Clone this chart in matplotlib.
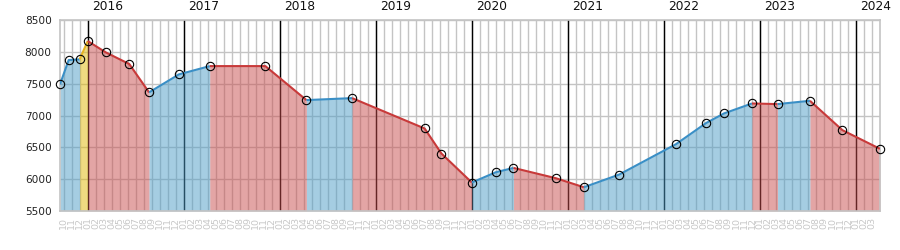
import matplotlib
matplotlib.use("Agg")
import matplotlib.pyplot as plt
import numpy as np

# month index: 0 = Oct 2015
x_pos = [-0.46, 0.625, 2.0, 3.0, 5.25, 8.2, 10.67, 14.4, 18.25, 25.2, 30.33, 36.04,
         45.1, 47.2, 51.0, 54.0, 56.2, 61.5, 65.0, 69.4, 76.5, 80.25, 82.5, 86.0,
         89.2, 93.25, 97.3, 102.0]
values = [7489, 7871, 7882, 8170, 7992, 7808, 7363, 7646, 7776, 7776, 7242, 7273,
          6796, 6403, 5947, 6109, 6177, 6015, 5873, 6072, 6549, 6880, 7032, 7189,
          7179, 7231, 6770, 6476]
# segment category between consecutive points: u = up (blue), d = down (red), y = yellow
segments = ["u", "u", "y", "d", "d", "d", "u", "u", "d", "d", "u", "d", "d", "d",
            "u", "u", "d", "d", "u", "u", "u", "u", "u", "d", "u", "d", "d"]
years = [2016, 2017, 2018, 2019, 2020, 2021, 2022, 2023, 2024]
start_year, start_month = 2015, 10
n_months = 102
month_labels = [f"{(start_month - 1 + i) % 12 + 1:02d}" for i in range(n_months)]
y_ticks = [5500, 6000, 6500, 7000, 7500, 8000, 8500]

fill_col = {"u": (0.302, 0.616, 0.780, 0.5), "d": (0.788, 0.302, 0.302, 0.5),
            "y": (0.882, 0.725, 0.02, 0.5)}
line_col = {"u": "#3a8fc6", "d": "#c83a3a", "y": "#e6b422"}

fig = plt.figure(figsize=(9, 2.5), dpi=100)
ax = fig.add_axes([60 / 900, 1 - 211 / 250, 820 / 900, 191 / 250])

ax.set_xlim(-0.46, 102.0)
ax.set_ylim(5500, 8500)

# grid
for m in range(n_months):
    ax.axvline(m, color="#c4c4c4", lw=1, zorder=1)
for yv in y_ticks:
    ax.axhline(yv, color="#c4c4c4", lw=1, zorder=1)
year_pos = [3 + 12 * (yr - 2016) for yr in years]
for xp, yr in zip(year_pos, years):
    ax.axvline(xp, color="black", lw=1, zorder=1.5)
    ax.text(xp + 0.55, 8500 + 115, str(yr), fontsize=8.8, color="#111111",
            ha="left", va="bottom", transform=ax.transData, clip_on=False)

# group consecutive segments of the same category into runs
runs = []
start = 0
for i in range(1, len(segments) + 1):
    if i == len(segments) or segments[i] != segments[start]:
        runs.append((start, i, segments[start]))
        start = i

for a, b, cat in runs:
    xs = x_pos[a:b + 1]
    ys = values[a:b + 1]
    ax.fill_between(xs, ys, 5500, color=fill_col[cat], lw=0, zorder=2)
    ax.plot(xs, ys, color=line_col[cat], lw=1.5, zorder=3, solid_capstyle="butt")

ax.plot(x_pos, values, ls="none", marker="o", ms=6, mfc="none", mec="black",
        mew=0.8, zorder=4, clip_on=False)

ax.set_yticks(y_ticks)
ax.set_yticklabels([str(v) for v in y_ticks], fontsize=7.6, color="#222222")
ax.set_xticks(range(n_months))
ax.set_xticklabels(month_labels, rotation=90, fontsize=6.8, color="#c8c8c8")
ax.tick_params(axis="both", length=0)
ax.tick_params(axis="x", pad=4)
ax.tick_params(axis="y", pad=6)
for s in ax.spines.values():
    s.set_color("#c4c4c4")
    s.set_linewidth(1.2)

fig.savefig("out.png", dpi=100)
